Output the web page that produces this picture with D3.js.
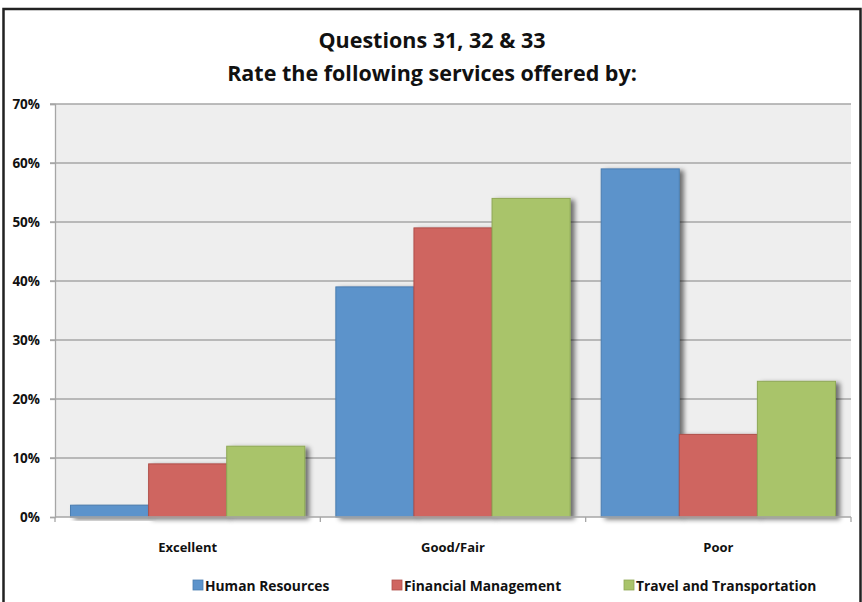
<!DOCTYPE html>
<html><head><meta charset="utf-8">
<script src="https://cdn.jsdelivr.net/npm/d3@7"></script>
<style>body{margin:0;background:#fff}svg{display:block}</style>
</head><body><svg id="c" width="862" height="602"></svg>
<script>
const categories = ["Excellent", "Good/Fair", "Poor"];
const seriesNames = ["Human Resources", "Financial Management", "Travel and Transportation"];
const humanResources = [2, 39, 59];
const financialManagement = [9, 49, 14];
const travelTransportation = [12, 54, 23];
const yTicks = [0, 10, 20, 30, 40, 50, 60, 70];
const titleLines = ["Questions 31, 32 & 33", "Rate the following services offered by:"];
const colors = ["#5c93cb", "#cf6560", "#a9c46b"];
const strokes = ["#4a7db0", "#b04f4a", "#8fa855"];

const series = [humanResources, financialManagement, travelTransportation];
const svg = d3.select("#c");
const font = "'Open Sans', 'Noto Sans', sans-serif";
const m = {l: 55, r: 851, t: 104, b: 517};

const defs = svg.append("defs");
const f = defs.append("filter").attr("id", "sh").attr("x", "-20%").attr("y", "-20%").attr("width", "150%").attr("height", "150%");
f.append("feGaussianBlur").attr("in", "SourceAlpha").attr("stdDeviation", 2.5);
f.append("feOffset").attr("dx", 4).attr("dy", 2).attr("result", "ob");
f.append("feComponentTransfer").append("feFuncA").attr("type", "linear").attr("slope", 0.55);
const mg = f.append("feMerge"); mg.append("feMergeNode"); mg.append("feMergeNode").attr("in", "SourceGraphic");

// outer border
svg.append("rect").attr("x", 3.5).attr("y", 9).attr("width", 857).attr("height", 600)
  .attr("fill", "#fff").attr("stroke", "#222").attr("stroke-width", 2.5);

svg.selectAll("text.title").data(titleLines).join("text")
  .attr("x", 432).attr("y", (d, i) => 48 + i * 33)
  .attr("text-anchor", "middle").attr("font-family", font).attr("font-weight", "bold")
  .attr("font-size", 21.5).attr("fill", "#111").text(d => d);

const x0 = d3.scaleBand().domain(categories).range([m.l, m.r]).paddingInner(0.117).paddingOuter(0.0585);
const x1 = d3.scaleBand().domain(seriesNames).range([0, x0.bandwidth()]);
const y = d3.scaleLinear().domain([0, 70]).range([m.b, m.t]);

svg.append("rect").attr("x", m.l).attr("y", m.t).attr("width", m.r - m.l).attr("height", m.b - m.t).attr("fill", "#eeeeee");

// gridlines
svg.append("g").selectAll("line").data(yTicks.filter(d => d > 0)).join("line")
  .attr("x1", m.l - 5).attr("x2", m.r).attr("y1", d => y(d)).attr("y2", d => y(d))
  .attr("stroke", "#a6a6a6").attr("stroke-width", 1.3);

// y axis
const ya = svg.append("g").attr("transform", `translate(${m.l},0)`)
  .call(d3.axisLeft(y).tickValues(yTicks).tickSize(5).tickFormat(d => d + "%"));
ya.select(".domain").attr("stroke", "#a6a6a6").attr("stroke-width", 1.3);
ya.selectAll(".tick line").attr("stroke", "#a6a6a6").attr("stroke-width", 1.3);
ya.selectAll(".tick text").attr("font-family", font).attr("font-weight", "bold").attr("font-size", 13.5)
  .attr("fill", "#111").attr("x", -15);

// bars
const g = svg.append("g");
categories.forEach((c, ci) => {
  series.forEach((s, si) => {
    g.append("rect")
      .attr("x", x0(c) + x1(seriesNames[si]))
      .attr("y", y(s[ci]))
      .attr("width", x1.bandwidth())
      .attr("height", y(0) - y(s[ci]))
      .attr("fill", colors[si]).attr("stroke", strokes[si]).attr("stroke-width", 1)
      .attr("filter", "url(#sh)");
  });
});

// x axis
const xTickPos = [m.l, ...categories.map(c => x0(c) + x0.bandwidth() + x0.step() * x0.paddingInner() / 2)];
xTickPos[3] = m.r;
svg.append("line").attr("x1", m.l).attr("x2", m.r).attr("y1", m.b).attr("y2", m.b).attr("stroke", "#a6a6a6").attr("stroke-width", 1.3);
svg.append("g").selectAll("line").data(xTickPos).join("line")
  .attr("x1", d => d).attr("x2", d => d).attr("y1", m.b).attr("y2", m.b + 5)
  .attr("stroke", "#a6a6a6").attr("stroke-width", 1.3);
svg.append("g").selectAll("text").data(categories).join("text")
  .attr("x", d => x0(d) + x0.bandwidth() / 2).attr("y", 552)
  .attr("text-anchor", "middle").attr("font-family", font).attr("font-weight", "bold")
  .attr("font-size", 13).attr("fill", "#111").text(d => d);

// legend
const legX = [193, 392, 624];
const lg = svg.append("g").selectAll("g").data(seriesNames).join("g")
  .attr("transform", (d, i) => `translate(${legX[i]},580)`);
lg.append("rect").attr("width", 10).attr("height", 10).attr("fill", (d, i) => colors[i]).attr("stroke", (d, i) => strokes[i]).attr("stroke-width", 0.8);
lg.append("text").attr("x", 12).attr("y", 10.5).attr("font-family", font).attr("font-weight", "bold")
  .attr("font-size", 13.8).attr("fill", "#111").text(d => d);
</script></body></html>
